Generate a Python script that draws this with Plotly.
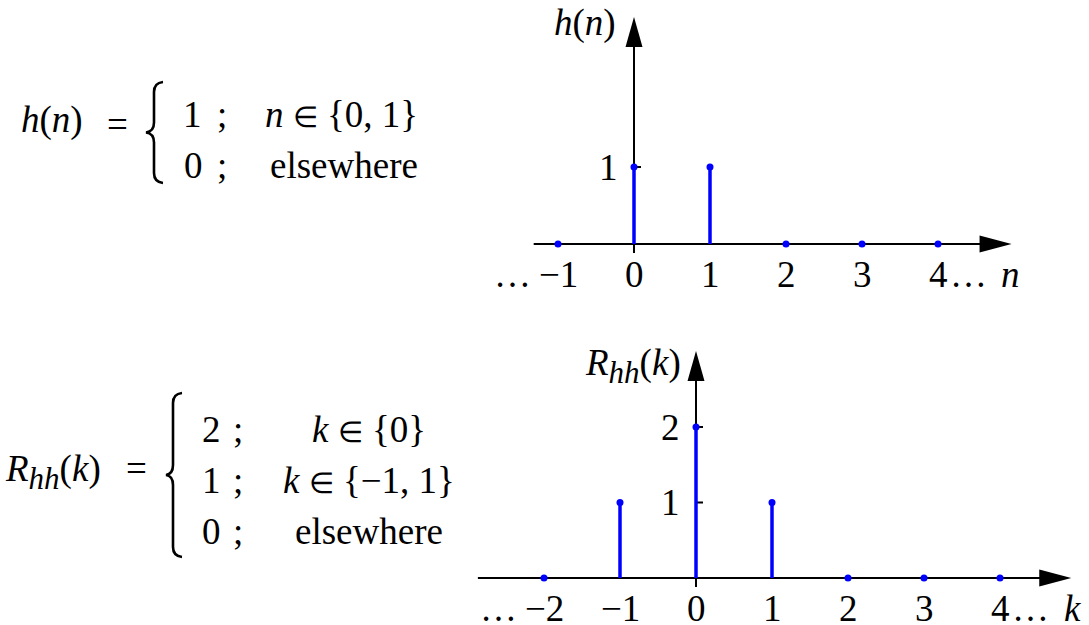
import plotly.graph_objects as go

# Impulse response h(n) and its autocorrelation R_hh(k)
n_vals = [-1, 0, 1, 2, 3, 4]
h_vals = [0, 1, 1, 0, 0, 0]
k_vals = [-2, -1, 0, 1, 2, 3, 4]
r_vals = [0, 1, 2, 1, 0, 0, 0]
h_yticks = [1]
r_yticks = [1, 2]

W, H = 1089, 625
BLUE = "#0000ff"
FONT = "Liberation Serif"
FS = 37

# pixel placement of the two stem plots (origin and scale)
TOP_ORIGIN, TOP_SX, TOP_SY = (634, 244), 76.0, 77.0
BOT_ORIGIN, BOT_SX, BOT_SY = (696, 578), 76.0, 75.5

ELEM = "<span style='font-size:29px'>\u2208</span>"
R_HH = "<i>R</i><sub><span style='font-size:31px'><i>hh</i></span></sub>(<i>k</i>)"


def axis_ranges(origin, sx, sy):
    ox, oy = origin
    return [-ox / sx, (W - ox) / sx], [(oy - H) / sy, oy / sy]


def stem_xy(xs, ys):
    sx, sy = [], []
    for x, y in zip(xs, ys):
        if y != 0:
            sx += [x, x, None]
            sy += [0, y, None]
    return sx, sy


def fmt(v):
    return str(v).replace("-", "\u2212")


fig = go.Figure()

for xs, ys, xa, ya in [(n_vals, h_vals, "x", "y"), (k_vals, r_vals, "x2", "y2")]:
    sx, sy = stem_xy(xs, ys)
    fig.add_trace(go.Scatter(x=sx, y=sy, mode="lines", xaxis=xa, yaxis=ya,
                             line=dict(color=BLUE, width=3.5), hoverinfo="skip"))
    fig.add_trace(go.Scatter(x=xs, y=ys, mode="markers", xaxis=xa, yaxis=ya,
                             marker=dict(color=BLUE, size=7), hoverinfo="skip"))

shapes = []
annotations = []


def txt(text, x, y, xref, yref, **kw):
    d = dict(text=text, x=x, y=y, xref=xref, yref=yref, showarrow=False,
             font=dict(family=FONT, size=FS, color="black"))
    d.update(kw)
    annotations.append(d)


def draw_axes(xs, yticks, xref, yref, left_pad, right_pad, var_label, name_label, name_shift):
    x_left = min(xs) - left_pad
    x_right = max(xs) + right_pad
    # horizontal axis with arrowhead
    shapes.append(dict(type="line", xref=xref, yref=yref, x0=x_left, x1=x_right, y0=0, y1=0,
                       line=dict(color="black", width=2), layer="below"))
    shapes.append(dict(type="path", xref=xref, yref=yref, xsizemode="pixel", ysizemode="pixel",
                       xanchor=x_right, yanchor=0, path="M 31,0 L -1,8.5 L -1,-8.5 Z",
                       fillcolor="black", line=dict(width=0), layer="below"))
    # vertical axis with arrowhead
    shapes.append(dict(type="line", xref=xref, yref=yref, ysizemode="pixel", yanchor=0,
                       x0=0, x1=0, y0=-9, y1=198,
                       line=dict(color="black", width=2), layer="below"))
    shapes.append(dict(type="path", xref=xref, yref=yref, xsizemode="pixel", ysizemode="pixel",
                       xanchor=0, yanchor=0, path="M 0,227 L -8.5,197 L 8.5,197 Z",
                       fillcolor="black", line=dict(width=0), layer="below"))
    # y ticks and labels
    for v in yticks:
        shapes.append(dict(type="line", xref=xref, yref=yref, xsizemode="pixel", xanchor=0,
                           x0=0, x1=7, y0=v, y1=v,
                           line=dict(color="black", width=2), layer="below"))
        txt(fmt(v), 0, v, xref, yref, xanchor="right", yanchor="middle", xshift=-14)
    # x tick labels
    for v in xs:
        txt(fmt(v), v, 0, xref, yref, xanchor="center", yanchor="middle", yshift=-30)
    txt("\u2026", min(xs), 0, xref, yref, xanchor="center", yanchor="middle", xshift=-46, yshift=-30)
    txt("\u2026", max(xs), 0, xref, yref, xanchor="center", yanchor="middle", xshift=30, yshift=-30)
    txt(var_label, max(xs), 0, xref, yref, xanchor="center", yanchor="middle", xshift=72, yshift=-30)
    # ordinate name
    txt(name_label, 0, 0, xref, yref, xanchor="right", yanchor="middle",
        xshift=name_shift[0], yshift=name_shift[1])


draw_axes(n_vals, h_yticks, "x", "y", 0.32, 0.56, "<i>n</i>", "<i>h</i>(<i>n</i>)", (-16, 221))
draw_axes(k_vals, r_yticks, "x2", "y2", 0.87, 0.53, "<i>k</i>", R_HH, (-13, 212))

# piecewise definitions on the left (pixel overlay axes)
BASE_OFF = 12.5


def eq(text, x, baseline, anchor="center"):
    txt(text, x, baseline - BASE_OFF, "x3", "y3", xanchor=anchor, yanchor="middle")


def brace(x_right, x_bar, x_tip, y_top, y_bot, r=10):
    ym = (y_top + y_bot) / 2
    path = (f"M {x_right},{y_top} Q {x_bar},{y_top + 1} {x_bar},{y_top + r} "
            f"L {x_bar},{ym - r} Q {x_bar},{ym - 1} {x_tip},{ym} "
            f"Q {x_bar},{ym + 1} {x_bar},{ym + r} "
            f"L {x_bar},{y_bot - r} Q {x_bar},{y_bot - 1} {x_right},{y_bot}")
    shapes.append(dict(type="path", xref="x3", yref="y3", path=path,
                       line=dict(color="black", width=2.6)))


eq("<i>h</i>(<i>n</i>)", 52, 132)
eq("=", 117, 137)
brace(163, 154, 146, 82, 183)
eq("1", 192, 127)
eq(";", 222, 127)
eq(f"<i>n</i> {ELEM} {{0, 1}}", 341, 127)
eq("0", 193, 178)
eq(";", 222, 178)
eq("elsewhere", 344, 178)

eq(R_HH, 103, 484, anchor="right")
eq("=", 136, 481)
brace(182, 173, 166, 393, 557)
for label, cond, base in [("2", f"<i>k</i> {ELEM} {{0}}", 442),
                          ("1", f"<i>k</i> {ELEM} {{\u22121, 1}}", 493),
                          ("0", "elsewhere", 544)]:
    eq(label, 211, base)
    eq(";", 238, base)
    eq(cond, 369, base)

xr1, yr1 = axis_ranges(TOP_ORIGIN, TOP_SX, TOP_SY)
xr2, yr2 = axis_ranges(BOT_ORIGIN, BOT_SX, BOT_SY)
hidden = dict(visible=False, domain=[0, 1], fixedrange=True)

fig.update_layout(
    width=W, height=H, autosize=False,
    margin=dict(l=0, r=0, t=0, b=0, pad=0),
    font=dict(family=FONT, size=FS, color="black"),
    paper_bgcolor="white", plot_bgcolor="rgba(0,0,0,0)",
    showlegend=False,
    xaxis=dict(hidden, range=xr1, anchor="y"),
    yaxis=dict(hidden, range=yr1, anchor="x"),
    xaxis2=dict(hidden, range=xr2, anchor="y2"),
    yaxis2=dict(hidden, range=yr2, anchor="x2"),
    xaxis3=dict(hidden, range=[0, W], anchor="y3"),
    yaxis3=dict(hidden, range=[H, 0], anchor="x3"),
    shapes=shapes,
    annotations=annotations,
)

fig.write_html("out.html")
